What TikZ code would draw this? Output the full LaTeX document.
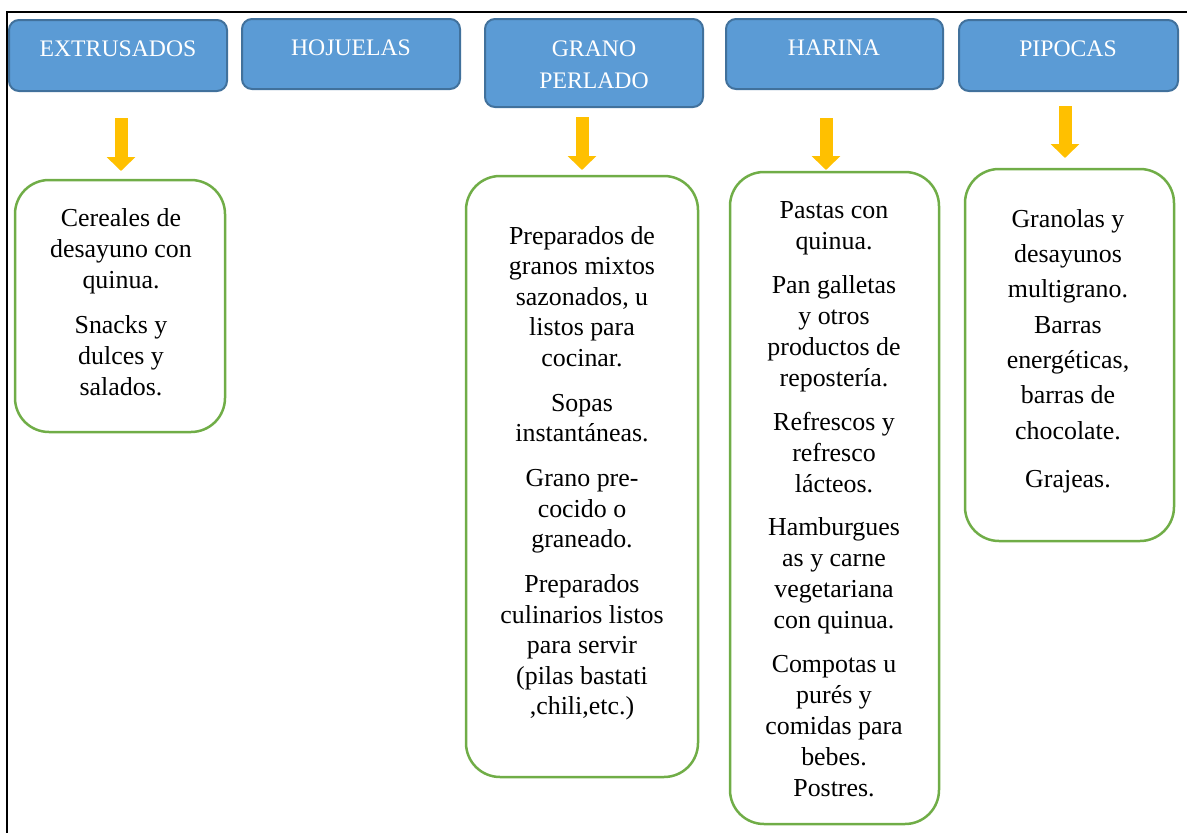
\documentclass[tikz,border=0pt]{standalone}
\usepackage{fontspec}
\setmainfont{Liberation Serif}
\newfontfamily\bodyserif{Liberation Serif}
\usetikzlibrary{arrows.meta}
\definecolor{hfill}{HTML}{5B9BD5}
\definecolor{hline}{HTML}{41719C}
\definecolor{gline}{HTML}{70AD47}
\definecolor{yarr}{HTML}{FFC000}
\begin{document}
\begin{tikzpicture}[x=1pt,y=-1pt,
  hdrbox/.style={draw=hline, fill=hfill, line width=2pt, rounded corners=10pt, anchor=north west, inner sep=0pt, outer sep=0pt},
  grnbox/.style={draw=gline, line width=2.5pt, rounded corners=34pt, anchor=north west, inner sep=0pt, outer sep=0pt},
  htxt/.style={text=white, align=center, inner sep=0pt, font=\bodyserif\fontsize{23.7}{32}\selectfont},
  btxt/.style={align=center, inner sep=0pt, scale=1.295, transform shape, font=\bodyserif\fontsize{20}{23.94}\selectfont},
  yarrow/.style={draw=yarr, line width=13pt, -{Triangle[width=28pt,length=14pt]}}]
\useasboundingbox (0,0) rectangle (1187,833);
% frame
\draw[line width=2.5pt] (7,833) -- (7,12) -- (1187,12);
% header boxes
\node[hdrbox, minimum width=218pt, minimum height=71pt] (h1) at (9,20) {};
\node[hdrbox, minimum width=218pt, minimum height=70pt] (h2) at (242,19) {};
\node[hdrbox, minimum width=218pt, minimum height=88pt] (h3) at (485,19) {};
\node[hdrbox, minimum width=217pt, minimum height=70pt] (h4) at (726,19) {};
\node[hdrbox, minimum width=219pt, minimum height=71pt] (h5) at (959,20) {};
\node[htxt] (t1) at (118,49) {EXTRUSADOS};
\node[htxt] (t2) at (351,48) {HOJUELAS};
\node[htxt] (t3) at (594,65) {GRANO\\PERLADO};
\node[htxt] (t4) at (834,48) {HARINA};
\node[htxt] (t5) at (1068,49) {PIPOCAS};
% green boxes
\node[grnbox, minimum width=210pt, minimum height=252pt] (g1) at (15,180) {};
\node[grnbox, minimum width=232pt, minimum height=601pt] (g2) at (466,176) {};
\node[grnbox, minimum width=209pt, minimum height=652pt] (g3) at (730,172) {};
\node[grnbox, minimum width=209pt, minimum height=372pt] (g4) at (965,169) {};
% texts
\node[btxt] (b1) at (121,302) {Cereales de\\desayuno con\\quinua.\\[10.8pt]Snacks y\\dulces y\\salados.};
\node[btxt, font=\bodyserif\fontsize{20}{23.55}\selectfont] (b2) at (582,473.5) {Preparados de\\granos mixtos\\sazonados, u\\listos para\\cocinar.\\[11.2pt]Sopas\\instantáneas.\\[11.2pt]Grano pre-\\cocido o\\graneado.\\[11.2pt]Preparados\\culinarios listos\\para servir\\(pilas bastati\\,chili,etc.)};
\node[btxt] (b3) at (834,499) {Pastas con\\quinua.\\[10pt]Pan galletas\\y otros\\productos de\\repostería.\\[10pt]Refrescos y\\refresco\\lácteos.\\[9.7pt]Hamburgues\\as y carne\\vegetariana\\con quinua.\\[9.7pt]Compotas u\\purés y\\comidas para\\bebes.\\Postres.};
\node[btxt, font=\bodyserif\fontsize{20}{27.26}\selectfont] (b4) at (1068,351) {Granolas y\\desayunos\\multigrano.\\Barras\\energéticas,\\barras de\\chocolate.\\[10pt]Grajeas.};
% arrows
\coordinate (a1) at (121,118);
\coordinate (a2) at (582,117);
\coordinate (a3) at (826,118);
\coordinate (a4) at (1065,106);
\draw[yarrow, shorten >=9pt] (a1) -- (a1 |- g1.north);
\draw[yarrow, shorten >=6pt] (a2) -- (a2 |- g2.north);
\draw[yarrow, shorten >=2pt] (a3) -- (a3 |- g3.north);
\draw[yarrow, shorten >=11pt] (a4) -- (a4 |- g4.north);
\end{tikzpicture}
\end{document}
